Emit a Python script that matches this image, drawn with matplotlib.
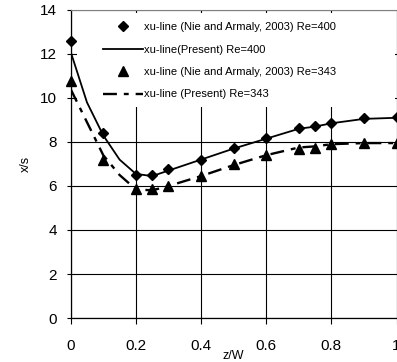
import matplotlib
matplotlib.use("Agg")
import matplotlib.pyplot as plt
from matplotlib.patches import Rectangle

plt.rcParams['font.family'] = ['Liberation Sans', 'DejaVu Sans']
plt.rcParams['lines.scale_dashes'] = False

# Nie and Armaly (2003) data
z_exp = [0, 0.1, 0.2, 0.25, 0.3, 0.4, 0.5, 0.6, 0.7, 0.75, 0.8, 0.9, 1.0]
re400_exp = [12.6, 8.4, 6.5, 6.5, 6.75, 7.2, 7.72, 8.2, 8.63, 8.73, 8.87, 9.07, 9.12]
re343_exp = [10.75, 7.2, 5.85, 5.85, 6.0, 6.45, 6.98, 7.4, 7.7, 7.72, 7.92, 7.95, 7.95]

# Present simulations
z_pre = [0, 0.05, 0.1, 0.15, 0.2, 0.25, 0.3, 0.4, 0.5, 0.6, 0.7, 0.75, 0.8, 0.9, 1.0]
re400_pre = [12.1, 9.8, 8.3, 7.2, 6.55, 6.45, 6.7, 7.2, 7.7, 8.15, 8.6, 8.7, 8.85, 9.05, 9.1]
re343_pre = [10.4, 8.9, 7.4, 6.5, 5.85, 5.8, 6.0, 6.45, 6.95, 7.4, 7.75, 7.8, 7.9, 7.95, 7.95]

labels = ["xu-line (Nie and Armaly, 2003) Re=400",
          "xu-line(Present) Re=400",
          "xu-line (Nie and Armaly, 2003) Re=343",
          "xu-line (Present) Re=343"]

xticks = [0, 0.2, 0.4, 0.6, 0.8, 1]
xtick_labels = ["0", "0.2", "0.4", "0.6", "0.8", "1"]
yticks = [0, 2, 4, 6, 8, 10, 12, 14]

fig = plt.figure(figsize=(3.97, 3.62), dpi=100)
ax = fig.add_axes([0.178, 0.1215, 0.821, 0.851])

ax.set_xlim(0, 1)
ax.set_ylim(0, 14)
ax.set_xticks(xticks)
ax.set_xticklabels(xtick_labels)
ax.set_yticks(yticks)
ax.set_axisbelow(True)
ax.grid(True, color='black', lw=0.8)
for s in ['left', 'bottom']:
    ax.spines[s].set_color('black')
    ax.spines[s].set_linewidth(0.9)
for s in ['top', 'right']:
    ax.spines[s].set_color('#808080')
    ax.spines[s].set_linewidth(0.8)

ax.tick_params(axis='x', direction='out', length=4, pad=11, labelsize=11, width=0.8)
ax.tick_params(axis='y', direction='out', length=3, pad=7, labelsize=11, width=0.8)

# white legend background covering the grid
ax.add_patch(Rectangle((0.019, 0.685), 0.976, 0.305, transform=ax.transAxes,
                       facecolor='white', edgecolor='none', zorder=1))

h1, = ax.plot(z_exp, re400_exp, linestyle='none', marker='D', ms=5,
              color='black', zorder=3, clip_on=False, label=labels[0])
h2, = ax.plot(z_pre, re400_pre, linestyle='-', lw=1.3, color='black',
              zorder=2, label=labels[1])
h3, = ax.plot(z_exp, re343_exp, linestyle='none', marker='^', ms=7.5,
              color='black', zorder=3, clip_on=False, label=labels[2])
h4, = ax.plot(z_pre, re343_pre, linestyle=(0, (10, 5, 3.5, 5)), lw=1.7,
              color='black', zorder=2, label=labels[3])

leg = ax.legend(handles=[h1, h2, h3, h4], loc='upper left',
                bbox_to_anchor=(0.085, 0.975), frameon=False, fontsize=8,
                handlelength=3.6, handletextpad=0.1, labelspacing=1.12,
                numpoints=1, borderaxespad=0)

ax.set_xlabel("z/W", fontsize=9, labelpad=-2)
ax.set_ylabel("x/s", fontsize=9, labelpad=6)

fig.savefig("out.png", dpi=100)
